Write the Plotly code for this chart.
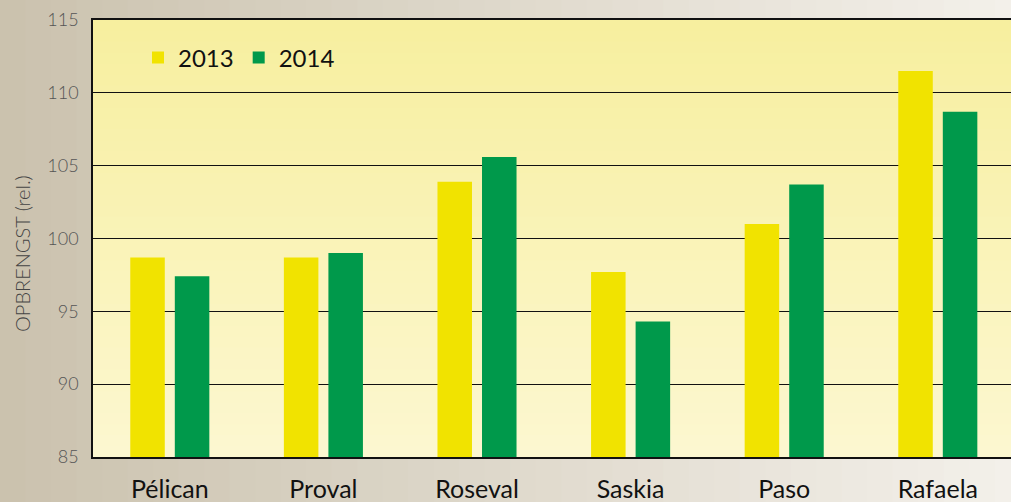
import plotly.graph_objects as go

categories = ["Pélican", "Proval", "Roseval", "Saskia", "Paso", "Rafaela"]
values_2013 = [98.7, 98.7, 103.9, 97.7, 101.0, 111.5]
values_2014 = [97.4, 99.0, 105.6, 94.3, 103.7, 108.7]
y_ticks = [85, 90, 95, 100, 105, 110, 115]

W, H = 1011, 502
ml, mt, mb, mr = 93, 20, 45, 0
pw, ph = W - ml - mr, H - mt - mb

FONT = "Lato"

fig = go.Figure()
fig.add_trace(go.Bar(name="2013", x=categories, y=values_2013, marker=dict(color="#f1e300", line=dict(width=0))))
fig.add_trace(go.Bar(name="2014", x=categories, y=values_2014, marker=dict(color="#00994b", line=dict(width=0))))


def lerp(c1, c2, t):
    a = [int(c1[i:i + 2], 16) for i in (1, 3, 5)]
    b = [int(c2[i:i + 2], 16) for i in (1, 3, 5)]
    return "rgb(%d,%d,%d)" % tuple(round(a[k] + (b[k] - a[k]) * t) for k in range(3))


shapes = []
# page background: horizontal gradient (approximating the photo)
n = 40
x_left, x_right = -ml / pw, 1 + mr / pw + 0.01
y_bot, y_top = -mb / ph, 1 + mt / ph
for i in range(n):
    t = i / (n - 1)
    x0 = x_left + (x_right - x_left) * i / n
    x1 = x_left + (x_right - x_left) * (i + 1) / n + 0.002
    shapes.append(dict(type="rect", xref="paper", yref="paper", x0=x0, x1=x1, y0=y_bot, y1=y_top,
                       fillcolor=lerp("#cbc2ae", "#f3f0ea", t), line=dict(width=0), layer="below"))
# plot area: vertical gradient
m = 40
for i in range(m):
    t = i / (m - 1)
    y0 = i / m
    y1 = (i + 1) / m + 0.002
    shapes.append(dict(type="rect", xref="paper", yref="paper", x0=0, x1=1, y0=y0, y1=min(y1, 1),
                       fillcolor=lerp("#fcf7d0", "#f7ef9f", t), line=dict(width=0), layer="below"))

fig.update_layout(
    width=W, height=H,
    margin=dict(l=ml, r=mr, t=mt, b=mb, pad=0, autoexpand=False),
    paper_bgcolor="#d8d0c0",
    plot_bgcolor="rgba(0,0,0,0)",
    barmode="group",
    bargap=0.42,
    bargroupgap=0.225,
    shapes=shapes,
    showlegend=True,
    legend=dict(orientation="h", x=(138 - ml) / pw, y=0.913, xanchor="left", yanchor="middle",
                bgcolor="rgba(0,0,0,0)", font=dict(family=FONT, size=24, color="#111111"),
                itemwidth=30, traceorder="normal"),
    xaxis=dict(range=[-0.5, -0.5 + pw / 153.6], showgrid=False, showline=True, linecolor="#111111",
               linewidth=1.5, mirror=True, ticks="", ticklabelstandoff=9, automargin=False,
               tickfont=dict(family=FONT, size=25, color="#111111")),
    yaxis=dict(range=[85, 115], tickvals=y_ticks, showgrid=True, gridcolor="#111111", gridwidth=1.2,
               showline=True, linecolor="#111111", linewidth=1.5, ticks="", zeroline=False,
               ticklabelstandoff=9, automargin=False,
               tickfont=dict(family=FONT, size=18, color="#555555", weight=300)),
    annotations=[dict(text="OPBRENGST (rel.)", xref="paper", yref="paper", x=-71 / pw, y=(457 - 254) / ph,
                      textangle=-90, showarrow=False, xanchor="center", yanchor="middle",
                      font=dict(family=FONT, size=20, color="#444444", weight=300))],
)

fig.write_html("out.html")
